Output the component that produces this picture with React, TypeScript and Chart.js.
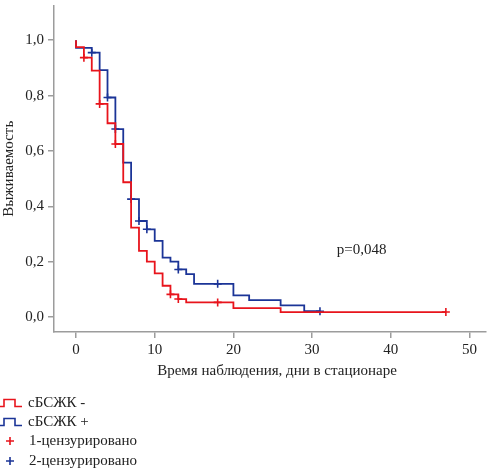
import { useEffect, useRef } from "react";
import { Chart, registerables, Plugin } from "chart.js";

Chart.register(...registerables);

const FONT = "'Liberation Serif', 'Times New Roman', serif";
const TEXT = "#222";
const AXIS = "#9c9c9c";
const RED = "#e8141c";
const BLUE = "#1b3497";

// Kaplan-Meier steps: time (days) and survival right after the step
const negTimes = [0, 0, 1, 2, 3, 4, 5, 6, 7, 8, 9, 10, 11, 12, 13, 14, 20, 26, 47];
const negSurv = [1.0, 0.975, 0.937, 0.89, 0.77, 0.7, 0.625, 0.487, 0.323, 0.239, 0.2, 0.158, 0.113, 0.082, 0.065, 0.053, 0.032, 0.018, 0.018];

const posTimes = [0, 0, 2, 3, 4, 5, 6, 7, 8, 9, 10, 11, 12, 13, 14, 15, 20, 22, 26, 29, 31];
const posSurv = [1.0, 0.972, 0.955, 0.892, 0.793, 0.679, 0.558, 0.426, 0.347, 0.317, 0.275, 0.215, 0.2, 0.172, 0.155, 0.12, 0.078, 0.061, 0.042, 0.021, 0.021];

// censored observations
const negCensTimes = [1, 3, 5, 12, 13, 18, 47];
const negCensSurv = [0.937, 0.77, 0.625, 0.082, 0.065, 0.053, 0.018];
const posCensTimes = [2, 4, 5, 7, 8, 9, 13, 18, 31];
const posCensSurv = [0.955, 0.793, 0.679, 0.426, 0.347, 0.317, 0.172, 0.12, 0.021];

const xTicks = [0, 10, 20, 30, 40, 50];
const yTicks = [0, 0.2, 0.4, 0.6, 0.8, 1.0];
const legendLabels = ["сБСЖК -", "сБСЖК +", "1-цензурировано", "2-цензурировано"];
const xTitle = "Время наблюдения, дни в стационаре";
const yTitle = "Выживаемость";
const pValueText = "p=0,048";

const toPoints = (xs: number[], ys: number[]) => xs.map((x, i) => ({ x, y: ys[i] }));

const textPlugin: Plugin = {
  id: "kmText",
  afterDatasetsDraw(chart) {
    const { ctx, scales } = chart;
    ctx.save();
    ctx.font = `15px ${FONT}`;
    ctx.fillStyle = TEXT;
    ctx.textAlign = "center";
    ctx.textBaseline = "middle";
    ctx.fillText(pValueText, scales.x.getPixelForValue(36.3), scales.y.getPixelForValue(0.242));
    // x axis title sits a little right of the plot centre in the original
    ctx.fillText(xTitle, 277, 371);
    ctx.restore();
  },
};

const legendPlugin: Plugin = {
  id: "kmLegend",
  afterDraw(chart) {
    const ctx = chart.ctx;
    const rows = [403, 422, 441, 461];
    ctx.save();
    ctx.font = `15px ${FONT}`;
    ctx.textBaseline = "middle";
    legendLabels.forEach((label, i) => {
      const y = rows[i];
      ctx.strokeStyle = i % 2 === 0 ? RED : BLUE;
      ctx.lineWidth = 1.6;
      ctx.beginPath();
      if (i < 2) {
        ctx.moveTo(0, y + 3.5);
        ctx.lineTo(4, y + 3.5);
        ctx.lineTo(4, y - 3.5);
        ctx.lineTo(15, y - 3.5);
        ctx.lineTo(15, y + 3.5);
        ctx.lineTo(22, y + 3.5);
      } else {
        ctx.moveTo(6, y);
        ctx.lineTo(14, y);
        ctx.moveTo(10, y - 4);
        ctx.lineTo(10, y + 4);
      }
      ctx.stroke();
      ctx.fillStyle = TEXT;
      ctx.fillText(label, i < 2 ? 28 : 29, y);
    });
    ctx.restore();
  },
};

const App = () => {
  const canvasRef = useRef<HTMLCanvasElement>(null);
  const chartRef = useRef<Chart | null>(null);

  useEffect(() => {
    document.body.style.margin = "0";
    if (!canvasRef.current) return;

    chartRef.current = new Chart(canvasRef.current, {
      type: "line",
      data: {
        datasets: [
          {
            label: "neg",
            data: toPoints(negTimes, negSurv),
            borderColor: RED,
            borderWidth: 1.8,
            stepped: "before",
            pointRadius: 0,
            fill: false,
          },
          {
            label: "neg censored",
            data: toPoints(negCensTimes, negCensSurv),
            showLine: false,
            pointStyle: "cross",
            pointRadius: 4,
            borderColor: RED,
            pointBorderWidth: 1.6,
          },
          {
            label: "pos",
            data: toPoints(posTimes, posSurv),
            borderColor: BLUE,
            borderWidth: 1.8,
            stepped: "before",
            pointRadius: 0,
            fill: false,
          },
          {
            label: "pos censored",
            data: toPoints(posCensTimes, posCensSurv),
            showLine: false,
            pointStyle: "cross",
            pointRadius: 4,
            borderColor: BLUE,
            pointBorderWidth: 1.6,
          },
        ],
      },
      options: {
        animation: false,
        responsive: true,
        maintainAspectRatio: false,
        layout: { padding: { top: 0, right: 14, bottom: 91, left: 0 } },
        plugins: {
          legend: { display: false },
          tooltip: { enabled: false },
        },
        scales: {
          x: {
            type: "linear",
            min: -2.8,
            max: 52.1,
            afterBuildTicks: (s) => {
              s.ticks = xTicks.map((value) => ({ value }));
            },
            afterFit: (s) => {
              s.height = 47;
            },
            grid: { drawOnChartArea: false, drawTicks: true, tickLength: 6, color: AXIS, lineWidth: 1.5 },
            border: { display: true, color: AXIS, width: 1.5 },
            ticks: { color: TEXT, padding: 3, font: { family: FONT, size: 15 } },
          },
          y: {
            type: "linear",
            min: -0.054,
            max: 1.125,
            afterBuildTicks: (s) => {
              s.ticks = yTicks.map((value) => ({ value }));
            },
            afterFit: (s) => {
              s.width = 54;
              s.paddingTop = 0;
            },
            grid: { drawOnChartArea: false, drawTicks: true, tickLength: 6, color: AXIS, lineWidth: 1.5 },
            border: { display: true, color: AXIS, width: 1.5 },
            ticks: {
              color: TEXT,
              padding: 4,
              font: { family: FONT, size: 15 },
              callback: (v) => Number(v).toFixed(1).replace(".", ","),
            },
            title: {
              display: true,
              text: yTitle,
              color: TEXT,
              padding: 0,
              font: { family: FONT, size: 15 },
            },
          },
        },
      },
      plugins: [textPlugin, legendPlugin],
    });

    return () => {
      if (chartRef.current) {
        chartRef.current.destroy();
        chartRef.current = null;
      }
    };
  }, []);

  return (
    <div style={{ position: "relative", width: 500, height: 470 }}>
      <canvas ref={canvasRef} />
    </div>
  );
};

export default App;
